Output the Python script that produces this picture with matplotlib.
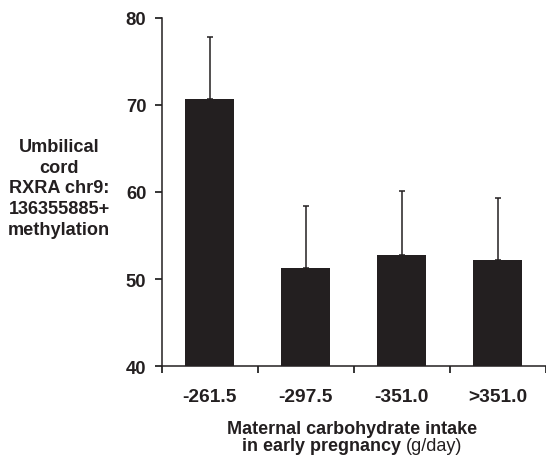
import numpy as np
import matplotlib.pyplot as plt

plt.rcParams['font.family'] = ['Liberation Sans', 'DejaVu Sans']

# Data
categories = ['-261.5', '-297.5', '-351.0', '>351.0']
means = [70.7, 51.3, 52.8, 52.2]
err_top = [77.8, 58.4, 60.1, 59.3]
yticks = [40, 50, 60, 70, 80]

bar_color = '#231f20'

fig = plt.figure(figsize=(5.46, 4.6), dpi=100)
ax = fig.add_axes([0.296, 0.202, 0.704, 0.757])

x = np.arange(len(categories))
errs = np.array(err_top) - np.array(means)
ax.bar(x, means, width=0.51, color=bar_color, bottom=0, zorder=2)
ax.errorbar(x, means, yerr=[np.zeros(len(x)), errs], fmt='none',
            ecolor=bar_color, elinewidth=1.1, capsize=2.2, capthick=1.1, zorder=1)

ax.set_ylim(40, 80)
ax.set_xlim(-0.5, len(categories) - 0.5)
ax.set_yticks(yticks)
ax.set_yticklabels([str(t) for t in yticks], fontsize=13.3, fontweight='bold',
                   color=bar_color)
ax.set_xticks(x)
ax.set_xticklabels(categories, fontsize=13.8, fontweight='bold', color=bar_color)
ax.tick_params(axis='x', length=0, pad=16)
ax.tick_params(axis='y', length=5, width=1.1, pad=6)
# ticks between categories
ax.set_xticks(np.arange(len(categories) + 1) - 0.5, minor=True)
ax.tick_params(axis='x', which='minor', length=5, width=1.1)

for s in ['top', 'right']:
    ax.spines[s].set_visible(False)
for s in ['left', 'bottom']:
    ax.spines[s].set_linewidth(1.1)
    ax.spines[s].set_color(bar_color)

# y label (horizontal, to the left)
fig.text(59 / 546, 1 - 189 / 460,
         'Umbilical\ncord\nRXRA chr9:\n136355885+\nmethylation',
         ha='center', va='center', multialignment='center',
         fontsize=13.1, fontweight='bold', linespacing=1.3, color=bar_color)

# x label, two lines, second line mixed weight
cx = 352 / 546
fig.text(cx, 1 - 434 / 460, 'Maternal carbohydrate intake',
         ha='center', va='baseline', fontsize=13, fontweight='bold', color=bar_color)

fig.canvas.draw()
r = fig.canvas.get_renderer()
y2 = 1 - 451.5 / 460
t1 = fig.text(0, y2, 'in early pregnancy ', ha='left', va='baseline',
              fontsize=13, fontweight='bold', color=bar_color)
t2 = fig.text(0, y2, '(g/day)', ha='left', va='baseline',
              fontsize=13, color=bar_color)
w1 = t1.get_window_extent(r).width / fig.bbox.width
w2 = t2.get_window_extent(r).width / fig.bbox.width
start = cx - (w1 + w2) / 2
t1.set_x(start)
t2.set_x(start + w1)

fig.savefig('out.png', dpi=100)
